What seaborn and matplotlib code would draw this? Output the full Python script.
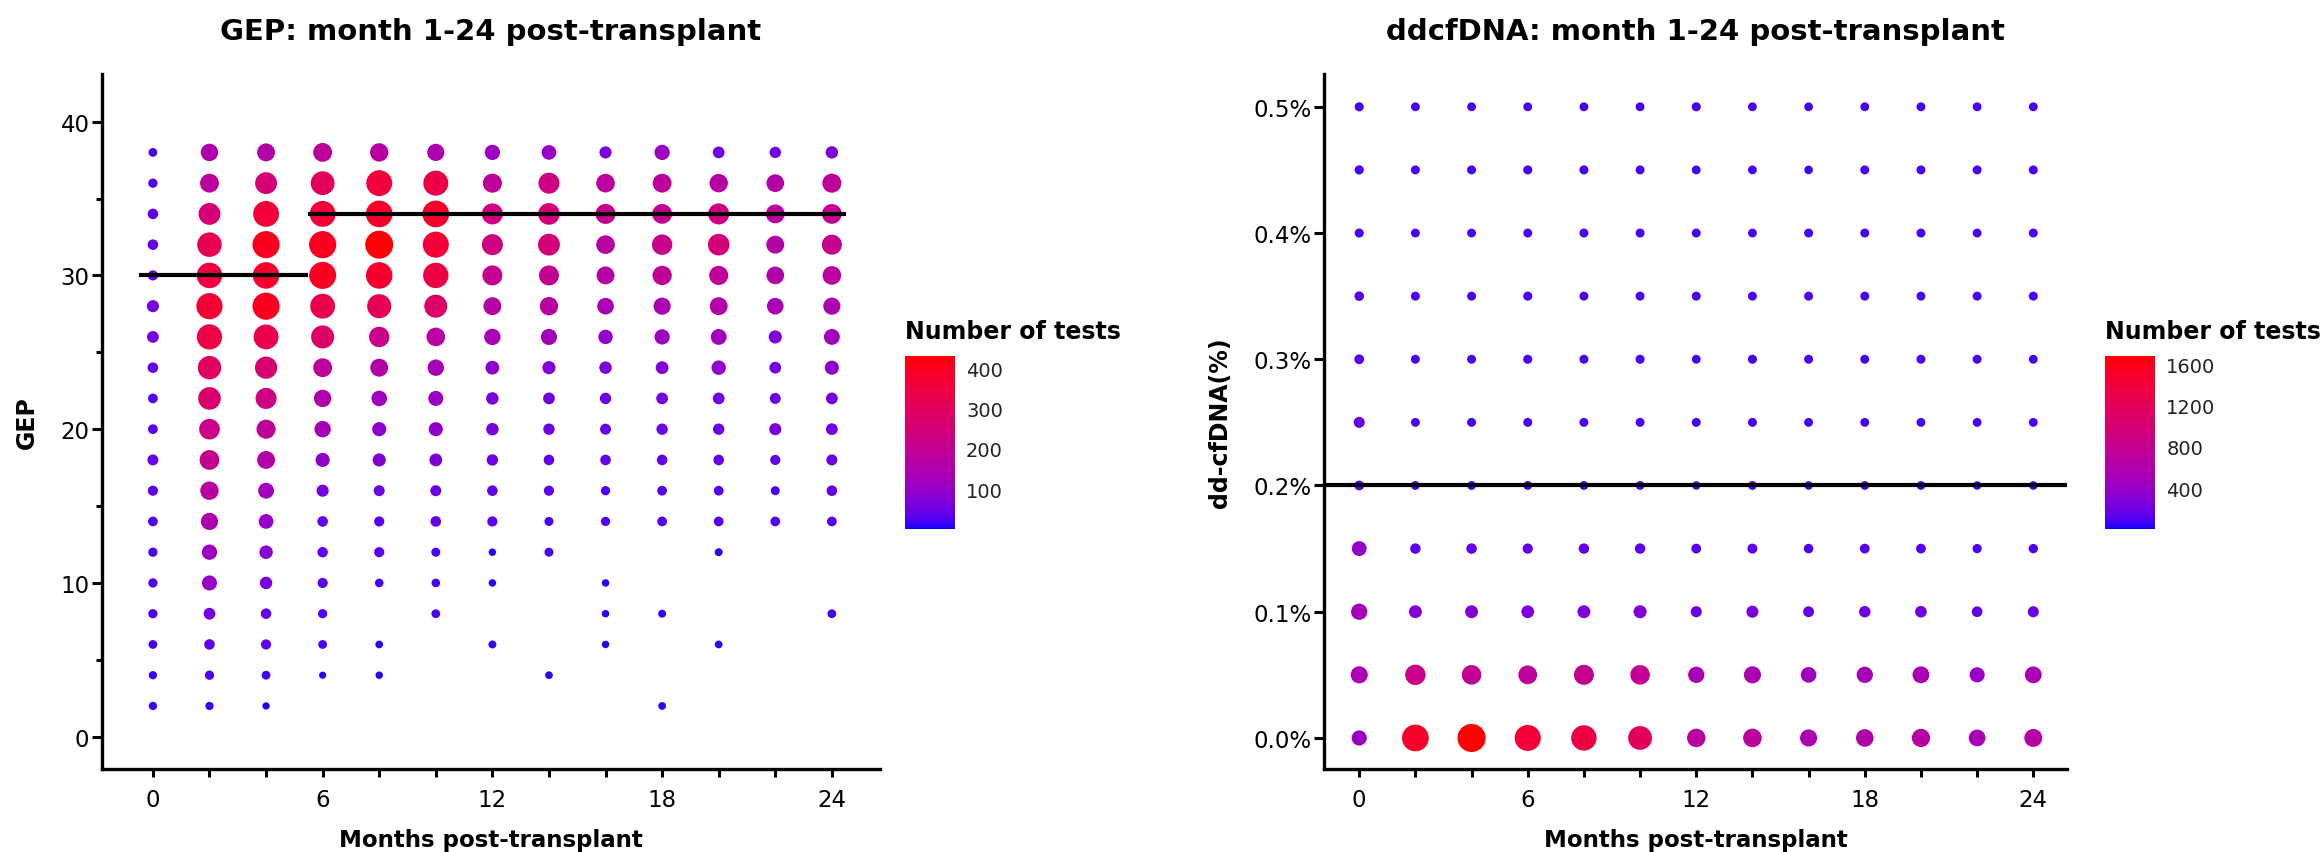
import matplotlib
matplotlib.use('Agg')

import numpy as np
import pandas as pd
import matplotlib.pyplot as plt
import seaborn as sns
from matplotlib.colors import LinearSegmentedColormap, Normalize
from matplotlib.cm import ScalarMappable
from matplotlib.ticker import FixedLocator, FuncFormatter

# months post-transplant (columns of both grids)
months = [0, 2, 4, 6, 8, 10, 12, 14, 16, 18, 20, 22, 24]

# GEP score levels, top row first
gep_levels = [38, 36, 34, 32, 30, 28, 26, 24, 22, 20, 18, 16, 14, 12, 10, 8, 6, 4, 2]
# number of tests per (GEP level, month), 0 = no point
gep_counts = [
    [20, 150, 160, 180, 170, 145, 110, 100, 60, 110, 55, 50, 65],
    [25, 180, 250, 300, 360, 335, 185, 230, 175, 180, 170, 155, 185],
    [40, 250, 360, 360, 385, 385, 230, 245, 205, 200, 230, 180, 200],
    [40, 320, 400, 400, 425, 365, 230, 250, 175, 215, 245, 160, 205],
    [35, 350, 380, 395, 380, 345, 205, 205, 160, 190, 185, 155, 175],
    [60, 370, 400, 330, 310, 280, 160, 170, 135, 145, 160, 135, 145],
    [55, 340, 330, 280, 215, 175, 130, 125, 95, 110, 120, 75, 120],
    [40, 290, 260, 180, 160, 130, 85, 75, 65, 70, 95, 55, 90],
    [30, 270, 230, 150, 115, 105, 65, 55, 50, 55, 55, 45, 55],
    [30, 220, 185, 130, 90, 90, 65, 50, 45, 50, 50, 60, 55],
    [45, 200, 160, 90, 75, 70, 50, 40, 40, 40, 40, 35, 45],
    [35, 170, 120, 60, 45, 45, 40, 35, 25, 30, 30, 22, 40],
    [30, 145, 100, 40, 35, 40, 35, 22, 25, 30, 30, 30, 30],
    [25, 110, 80, 38, 35, 22, 8, 22, 0, 0, 12, 0, 0],
    [25, 105, 65, 35, 18, 18, 8, 0, 8, 0, 0, 0, 0],
    [25, 55, 40, 25, 0, 20, 0, 0, 8, 12, 0, 0, 20],
    [20, 40, 35, 20, 10, 0, 12, 0, 8, 0, 10, 0, 0],
    [15, 25, 20, 5, 8, 0, 0, 10, 0, 0, 0, 0, 0],
    [15, 15, 6, 0, 0, 0, 0, 0, 0, 10, 0, 0, 0],
]
gep_thr_start = [-0.5, 5.5]
gep_thr_end = [5.5, 24.5]
gep_thr_value = [30, 34]
gep_range = (1, 430)
gep_cbar_ticks = [100, 200, 300, 400]

# dd-cfDNA levels (%), top row first
dd_levels = [0.50, 0.45, 0.40, 0.35, 0.30, 0.25, 0.20, 0.15, 0.10, 0.05, 0.00]
dd_counts = [
    [90, 80, 80, 80, 80, 80, 90, 80, 75, 80, 80, 80, 80],
    [95, 85, 85, 90, 90, 85, 80, 80, 70, 85, 85, 85, 85],
    [90, 80, 80, 85, 85, 85, 85, 80, 85, 85, 85, 80, 85],
    [110, 85, 85, 90, 85, 85, 85, 85, 85, 85, 85, 85, 85],
    [120, 85, 85, 90, 85, 90, 80, 90, 85, 85, 85, 85, 80],
    [180, 80, 85, 85, 85, 85, 85, 85, 80, 80, 80, 80, 80],
    [120, 80, 80, 80, 80, 80, 65, 80, 70, 75, 75, 65, 70],
    [400, 150, 150, 140, 150, 150, 120, 130, 110, 120, 120, 95, 100],
    [500, 280, 280, 270, 280, 290, 180, 230, 170, 200, 210, 160, 180],
    [560, 840, 760, 700, 800, 760, 500, 560, 450, 500, 540, 420, 540],
    [420, 1510, 1680, 1430, 1350, 1180, 670, 680, 560, 600, 650, 530, 630],
]
dd_threshold = 0.2
dd_range = (5, 1680)
dd_cbar_ticks = [400, 800, 1200, 1600]


# blue -> red gradient interpolated in CIELAB (like ggplot's scale_colour_gradient)
def srgb_to_lab(rgb):
    c = np.asarray(rgb, float)
    lin = np.where(c <= 0.04045, c / 12.92, ((c + 0.055) / 1.055) ** 2.4)
    m = np.array([[0.4124, 0.3576, 0.1805], [0.2126, 0.7152, 0.0722], [0.0193, 0.1192, 0.9505]])
    xyz = m @ lin / np.array([0.95047, 1.0, 1.08883])
    f = np.where(xyz > (6 / 29) ** 3, np.cbrt(xyz), xyz / (3 * (6 / 29) ** 2) + 4 / 29)
    return np.array([116 * f[1] - 16, 500 * (f[0] - f[1]), 200 * (f[1] - f[2])])


def lab_to_srgb(lab):
    fy = (lab[0] + 16) / 116
    f = np.array([fy + lab[1] / 500, fy, fy - lab[2] / 200])
    xyz = np.where(f > 6 / 29, f ** 3, 3 * (6 / 29) ** 2 * (f - 4 / 29)) * np.array([0.95047, 1.0, 1.08883])
    m = np.array([[3.2406, -1.5372, -0.4986], [-0.9689, 1.8758, 0.0415], [0.0557, -0.2040, 1.0570]])
    lin = np.clip(m @ xyz, 0, 1)
    c = np.where(lin <= 0.0031308, 12.92 * lin, 1.055 * lin ** (1 / 2.4) - 0.055)
    return np.clip(c, 0, 1)


lab_lo, lab_hi = srgb_to_lab([0, 0, 1]), srgb_to_lab([1, 0, 0])
grad = [lab_to_srgb(lab_lo + t * (lab_hi - lab_lo)) for t in np.linspace(0, 1, 256)]
cmap = LinearSegmentedColormap.from_list('blue_red_lab', grad)


def to_long(levels, counts, col):
    rows = []
    for i, lev in enumerate(levels):
        for j, m in enumerate(months):
            if counts[i][j] > 0:
                rows.append({'month': m, col: lev, 'n': counts[i][j]})
    return pd.DataFrame(rows)


gep_df = to_long(gep_levels, gep_counts, 'gep')
dd_df = to_long(dd_levels, dd_counts, 'dd')

sns.set_style('ticks')
plt.rcParams['font.family'] = ['DejaVu Sans']
plt.rcParams.update({'text.color': 'black', 'axes.labelcolor': 'black',
                     'xtick.color': 'black', 'ytick.color': 'black'})

fig = plt.figure(figsize=(23.23, 8.53), dpi=100)
ax1 = fig.add_axes([0.0439, 0.0973, 0.3349, 0.8148])
ax2 = fig.add_axes([0.5700, 0.0973, 0.3198, 0.8148])
cax1 = fig.add_axes([0.3896, 0.3787, 0.0215, 0.2028])
cax2 = fig.add_axes([0.9062, 0.3787, 0.0215, 0.2028])

size_range = (22, 410)

sns.scatterplot(data=gep_df, x='month', y='gep', hue='n', size='n', palette=cmap,
                hue_norm=gep_range, sizes=size_range, size_norm=(0, gep_range[1]),
                linewidth=0, legend=False, ax=ax1, zorder=2)
ax1.hlines(gep_thr_value, gep_thr_start, gep_thr_end, color='black', lw=3, zorder=3)

sns.scatterplot(data=dd_df, x='month', y='dd', hue='n', size='n', palette=cmap,
                hue_norm=dd_range, sizes=size_range, size_norm=(0, dd_range[1]),
                linewidth=0, legend=False, ax=ax2, zorder=2)
ax2.axhline(dd_threshold, color='black', lw=3, zorder=3)

ax1.set_xlim(-1.8, 25.7)
ax1.set_ylim(-2.1, 43.1)
ax2.set_xlim(-1.25, 25.2)
ax2.set_ylim(-0.0246, 0.526)

for ax in (ax1, ax2):
    sns.despine(ax=ax)
    for s in ('left', 'bottom'):
        ax.spines[s].set_linewidth(2.4)
        ax.spines[s].set_color('black')
    ax.xaxis.set_major_locator(FixedLocator([0, 6, 12, 18, 24]))
    ax.xaxis.set_minor_locator(FixedLocator([2, 4, 8, 10, 14, 16, 20, 22]))
    ax.tick_params(axis='x', which='both', length=6, width=2.2, labelsize=16.5, pad=8,
                   color='black', labelcolor='black')
    ax.tick_params(axis='y', which='major', length=7, width=2.2, labelsize=16.5, pad=2,
                   color='black', labelcolor='black')
    ax.set_xlabel('Months post-transplant', fontsize=16.5, fontweight='bold', labelpad=12)

ax1.yaxis.set_major_locator(FixedLocator([0, 10, 20, 30, 40]))
ax1.yaxis.set_minor_locator(FixedLocator([5, 15, 25, 35]))
ax1.tick_params(axis='y', which='minor', length=4, width=2.2, color='black')
ax1.set_ylabel('GEP', fontsize=17, fontweight='bold')
ax1.yaxis.set_label_coords(-0.081, 0.5)
ax1.set_title('GEP: month 1-24 post-transplant', fontsize=21, fontweight='bold', pad=25)

ax2.yaxis.set_major_locator(FixedLocator([0.0, 0.1, 0.2, 0.3, 0.4, 0.5]))
ax2.yaxis.set_minor_locator(FixedLocator([]))
ax2.yaxis.set_major_formatter(FuncFormatter(lambda v, p: f'{v:.1f}%'))
ax2.set_ylabel('dd-cfDNA(%)', fontsize=17, fontweight='bold')
ax2.yaxis.set_label_coords(-0.124, 0.5)
ax2.set_title('ddcfDNA: month 1-24 post-transplant', fontsize=21, fontweight='bold', pad=25)

for cax, rng, ticks in ((cax1, gep_range, gep_cbar_ticks), (cax2, dd_range, dd_cbar_ticks)):
    cb = fig.colorbar(ScalarMappable(norm=Normalize(*rng), cmap=cmap), cax=cax)
    cb.outline.set_visible(False)
    cb.set_ticks(ticks)
    cb.minorticks_off()
    cax.tick_params(axis='y', which='major', direction='in', left=True, right=True,
                    labelleft=False, labelright=True, color='white', length=6, width=1.2,
                    labelsize=14, pad=8, labelcolor='#222222')
    cax.set_title('Number of tests', loc='left', fontsize=17, fontweight='bold', pad=13)

fig.savefig('out.png', dpi=100)
